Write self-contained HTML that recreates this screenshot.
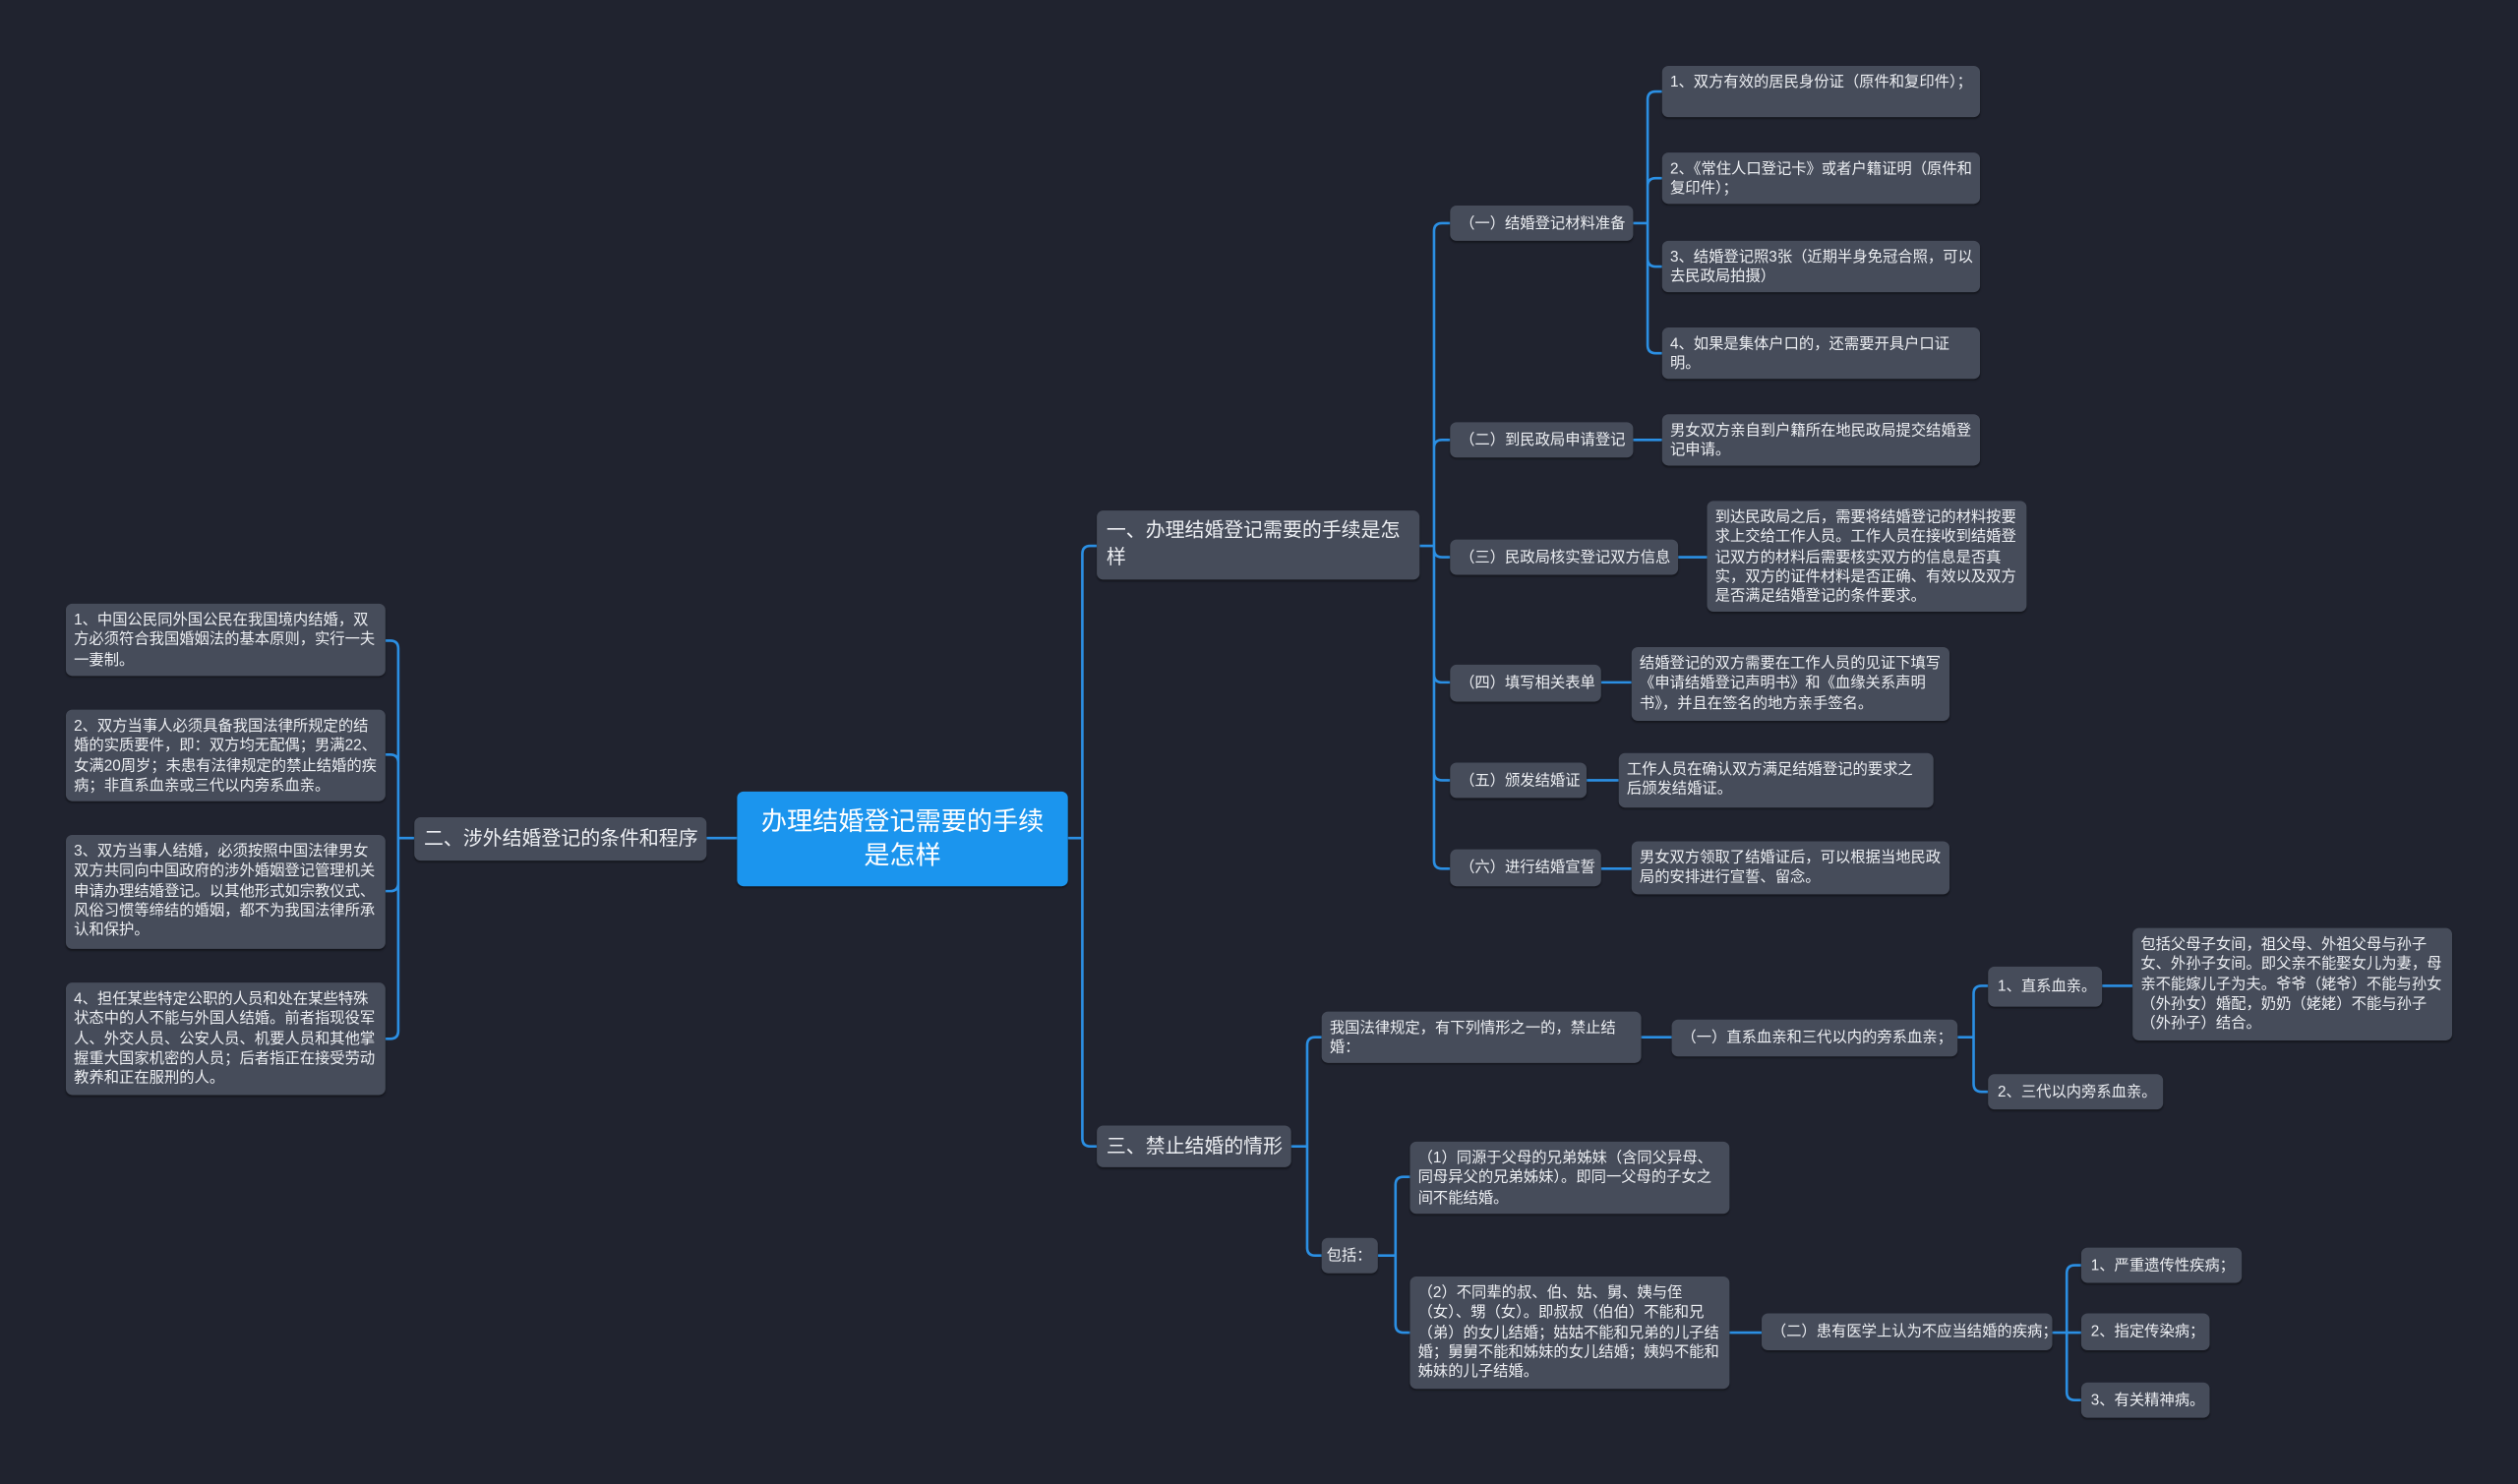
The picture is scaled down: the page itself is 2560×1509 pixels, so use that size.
<!DOCTYPE html>
<html><head><meta charset="utf-8">
<style>
html,body{margin:0;padding:0;background:#20232f;width:2560px;height:1509px;overflow:hidden}
#s{position:absolute;left:0;top:0;width:1568px;height:924px;transform:scale(1.63265);transform-origin:0 0;font-family:"Liberation Sans","Noto Sans CJK SC",sans-serif}
.n{position:absolute;box-sizing:border-box;background:#464c5a;color:#eceef2;border-radius:4px;font-size:9.4px;line-height:12.3px;padding:4px 4px 4px 5px;box-shadow:0 1px 1px rgba(0,0,0,.35);overflow:hidden}
.m{font-size:9.4px;display:flex;align-items:center;padding:0 6px;white-space:nowrap}
.b{font-size:12.2px;line-height:17px;padding:4px 6px}
svg{position:absolute;left:0;top:0}
</style></head><body><div id="s">
<svg width="1568" height="924" fill="none" stroke="#2b8fe3" stroke-width="1.6">
<path d="M665,522H674M674,522V345Q674,340 679,340H683M674,522V709Q674,714 679,714H683"/>
<path d="M459,522H440"/>
<path d="M258,522H248M248,522V404Q248,399 243,399H240M248,522V475Q248,470 243,470H240M248,522V550Q248,555 243,555H240M248,522V642Q248,647 243,647H240"/>
<path d="M884,340H893M893,340V144Q893,139 898,139H903M893,340V279Q893,274 898,274H903M893,340V342Q893,347 898,347H903M893,340V420Q893,425 898,425H903M893,340V481Q893,486 898,486H903M893,340V536Q893,541 898,541H903"/>
<path d="M1017,139H1026M1026,139V62Q1026,57 1031,57H1035M1026,139V116Q1026,111 1031,111H1035M1026,139V161Q1026,166 1031,166H1035M1026,139V215Q1026,220 1031,220H1035"/>
<path d="M1017,274H1035M1045,347H1063M997,425H1016M988,486H1008M997,541H1016"/>
<path d="M804,714H814M814,714V651Q814,646 819,646H823M814,714V777Q814,782 819,782H823"/>
<path d="M1022,646H1041M1219,646H1229M1229,646V619Q1229,614 1234,614H1238M1229,646V675Q1229,680 1234,680H1238M1309,614H1328"/>
<path d="M858,782H869M869,782V738Q869,733 874,733H878M869,782V825Q869,830 874,830H878M1077,830H1097"/>
<path d="M1278,830H1287M1287,830V793Q1287,788 1292,788H1296M1287,830H1296M1287,830V867Q1287,872 1292,872H1296"/>
</svg>

<div class="n" style="left:459px;top:493px;width:206px;height:59px;background:#1b95ee;color:#fff;font-size:16px;line-height:21px;display:flex;align-items:center;justify-content:center;text-align:center;padding:4px 12px">办理结婚登记需要的手续是怎样</div>

<div class="n b" style="left:683px;top:318px;width:201px;height:43px">一、办理结婚登记需要的手续是怎样</div>
<div class="n m" style="left:258px;top:509px;width:182px;height:27px;font-size:12.2px">二、涉外结婚登记的条件和程序</div>
<div class="n m" style="left:683px;top:701px;width:121px;height:26px;font-size:12.2px">三、禁止结婚的情形</div>

<div class="n" style="left:41px;top:376px;width:199px;height:45px">1、中国公民同外国公民在我国境内结婚，双方必须符合我国婚姻法的基本原则，实行一夫一妻制。</div>
<div class="n" style="left:41px;top:442px;width:199px;height:57px">2、双方当事人必须具备我国法律所规定的结婚的实质要件，即：双方均无配偶；男满22、女满20周岁；未患有法律规定的禁止结婚的疾病；非直系血亲或三代以内旁系血亲。</div>
<div class="n" style="left:41px;top:520px;width:199px;height:71px">3、双方当事人结婚，必须按照中国法律男女双方共同向中国政府的涉外婚姻登记管理机关申请办理结婚登记。以其他形式如宗教仪式、风俗习惯等缔结的婚姻，都不为我国法律所承认和保护。</div>
<div class="n" style="left:41px;top:612px;width:199px;height:70px">4、担任某些特定公职的人员和处在某些特殊状态中的人不能与外国人结婚。前者指现役军人、外交人员、公安人员、机要人员和其他掌握重大国家机密的人员；后者指正在接受劳动教养和正在服刑的人。</div>

<div class="n m" style="left:903px;top:128px;width:114px;height:22px">（一）结婚登记材料准备</div>
<div class="n m" style="left:903px;top:263px;width:114px;height:22px">（二）到民政局申请登记</div>
<div class="n m" style="left:903px;top:336px;width:142px;height:22px">（三）民政局核实登记双方信息</div>
<div class="n m" style="left:903px;top:414px;width:94px;height:23px">（四）填写相关表单</div>
<div class="n m" style="left:903px;top:475px;width:85px;height:22px">（五）颁发结婚证</div>
<div class="n m" style="left:903px;top:529px;width:94px;height:23px">（六）进行结婚宣誓</div>

<div class="n" style="left:1035px;top:41px;width:198px;height:32px">1、双方有效的居民身份证（原件和复印件）；</div>
<div class="n" style="left:1035px;top:95px;width:198px;height:32px">2、《常住人口登记卡》或者户籍证明（原件和复印件）；</div>
<div class="n" style="left:1035px;top:150px;width:198px;height:32px">3、结婚登记照3张（近期半身免冠合照，可以去民政局拍摄）</div>
<div class="n" style="left:1035px;top:204px;width:198px;height:32px">4、如果是集体户口的，还需要开具户口证明。</div>
<div class="n" style="left:1035px;top:258px;width:198px;height:32px">男女双方亲自到户籍所在地民政局提交结婚登记申请。</div>
<div class="n" style="left:1063px;top:312px;width:199px;height:69px">到达民政局之后，需要将结婚登记的材料按要求上交给工作人员。工作人员在接收到结婚登记双方的材料后需要核实双方的信息是否真实，双方的证件材料是否正确、有效以及双方是否满足结婚登记的条件要求。</div>
<div class="n" style="left:1016px;top:403px;width:198px;height:46px">结婚登记的双方需要在工作人员的见证下填写《申请结婚登记声明书》和《血缘关系声明书》，并且在签名的地方亲手签名。</div>
<div class="n" style="left:1008px;top:469px;width:196px;height:34px">工作人员在确认双方满足结婚登记的要求之后颁发结婚证。</div>
<div class="n" style="left:1016px;top:524px;width:198px;height:33px">男女双方领取了结婚证后，可以根据当地民政局的安排进行宣誓、留念。</div>

<div class="n" style="left:823px;top:630px;width:199px;height:32px">我国法律规定，有下列情形之一的，禁止结婚：</div>
<div class="n m" style="left:823px;top:771px;width:35px;height:22px;padding:0 3px">包括：</div>
<div class="n m" style="left:1041px;top:635px;width:178px;height:23px">（一）直系血亲和三代以内的旁系血亲；</div>
<div class="n m" style="left:1238px;top:602px;width:71px;height:25px">1、直系血亲。</div>
<div class="n" style="left:1328px;top:578px;width:199px;height:70px">包括父母子女间，祖父母、外祖父母与孙子女、外孙子女间。即父亲不能娶女儿为妻，母亲不能嫁儿子为夫。爷爷（姥爷）不能与孙女（外孙女）婚配，奶奶（姥姥）不能与孙子（外孙子）结合。</div>
<div class="n m" style="left:1238px;top:669px;width:109px;height:22px">2、三代以内旁系血亲。</div>
<div class="n" style="left:878px;top:711px;width:199px;height:45px">（1）同源于父母的兄弟姊妹（含同父异母、同母异父的兄弟姊妹）。即同一父母的子女之间不能结婚。</div>
<div class="n" style="left:878px;top:795px;width:199px;height:70px">（2）不同辈的叔、伯、姑、舅、姨与侄（女）、甥（女）。即叔叔（伯伯）不能和兄（弟）的女儿结婚；姑姑不能和兄弟的儿子结婚；舅舅不能和姊妹的女儿结婚；姨妈不能和姊妹的儿子结婚。</div>
<div class="n m" style="left:1097px;top:818px;width:181px;height:23px">（二）患有医学上认为不应当结婚的疾病；</div>
<div class="n m" style="left:1296px;top:777px;width:100px;height:22px">1、严重遗传性疾病；</div>
<div class="n m" style="left:1296px;top:818px;width:80px;height:23px">2、指定传染病；</div>
<div class="n m" style="left:1296px;top:861px;width:80px;height:22px">3、有关精神病。</div>
</div></body></html>
